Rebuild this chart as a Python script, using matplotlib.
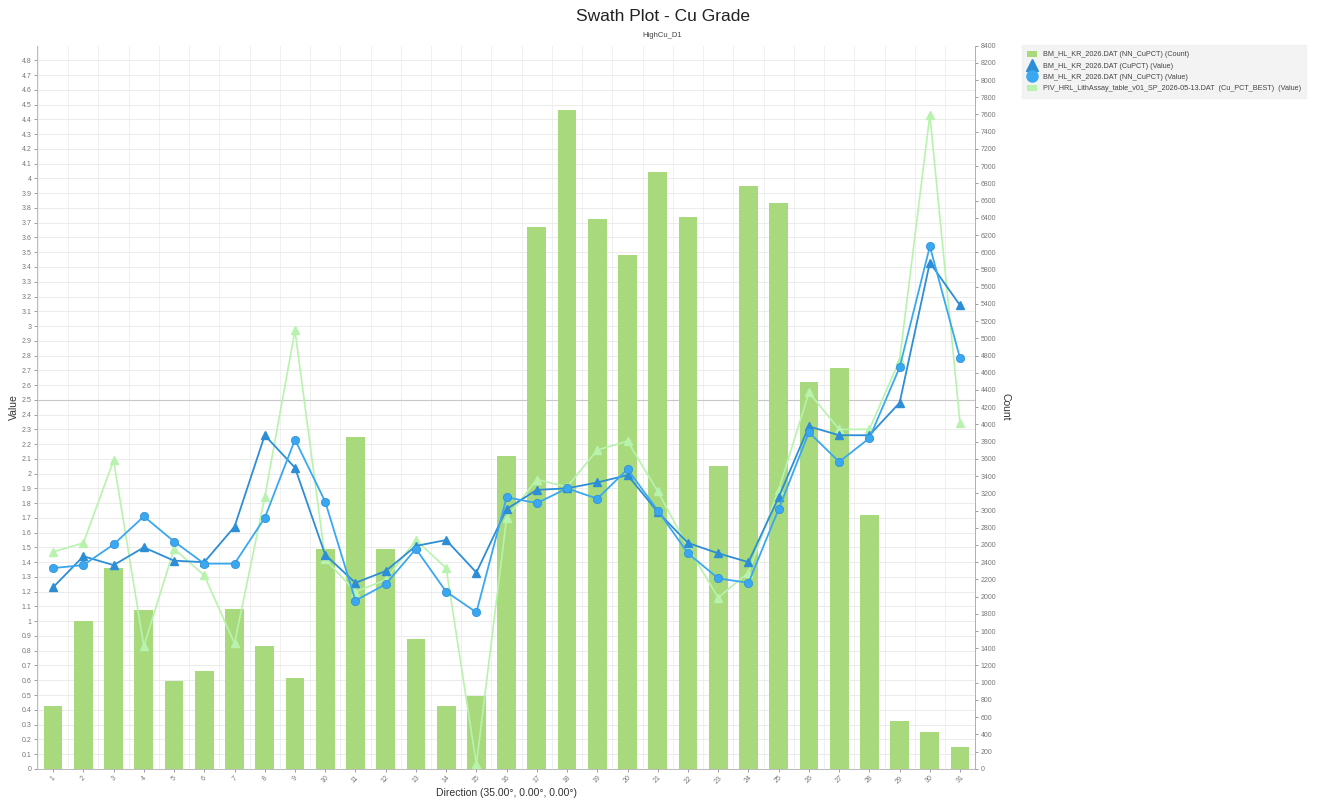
import numpy as np
import matplotlib
matplotlib.use('Agg')
import matplotlib.pyplot as plt
from matplotlib.lines import Line2D
from matplotlib.patches import Patch

plt.rcParams['font.family'] = ['Liberation Sans', 'DejaVu Sans']

# swath positions along direction
swath = list(range(1, 32))

# sample counts per swath (bars, right axis)
counts = [730, 1720, 2330, 1840, 1020, 1140, 1860, 1430, 1060, 2550,
          3850, 2550, 1510, 730, 840, 3630, 6290, 7650, 6390, 5970,
          6930, 6410, 3520, 6770, 6570, 4490, 4650, 2950, 550, 430, 256]

# BM_HL_KR_2026 (CuPCT) mean value - triangles
cu_pct = [1.23, 1.44, 1.38, 1.50, 1.41, 1.40, 1.64, 2.26, 2.04, 1.45,
          1.26, 1.34, 1.51, 1.55, 1.33, 1.76, 1.89, 1.90, 1.94, 1.99,
          1.74, 1.53, 1.46, 1.40, 1.84, 2.32, 2.26, 2.26, 2.48, 3.43, 3.14]

# BM_HL_KR_2026 (NN_CuPCT) mean value - circles
nn_cu_pct = [1.36, 1.38, 1.52, 1.71, 1.54, 1.39, 1.39, 1.70, 2.23, 1.81,
             1.14, 1.25, 1.49, 1.20, 1.06, 1.84, 1.80, 1.90, 1.83, 2.03,
             1.75, 1.46, 1.29, 1.26, 1.76, 2.28, 2.08, 2.24, 2.72, 3.54, 2.78]

# assay table Cu_PCT_BEST mean value
assay = [1.47, 1.53, 2.09, 0.83, 1.49, 1.31, 0.85, 1.84, 2.97, 1.42,
         1.20, 1.28, 1.55, 1.36, 0.03, 1.70, 1.96, 1.91, 2.16, 2.22,
         1.88, 1.50, 1.16, 1.33, 1.89, 2.55, 2.30, 2.30, 2.77, 4.43, 2.34]

labels = ['BM_HL_KR_2026.DAT (NN_CuPCT) (Count)',
          'BM_HL_KR_2026.DAT (CuPCT) (Value)',
          'BM_HL_KR_2026.DAT (NN_CuPCT) (Value)',
          'PIV_HRL_LithAssay_table_v01_SP_2026-05-13.DAT  (Cu_PCT_BEST)  (Value)']

bar_col = '#a8d97c'
blue_dark = '#2d8ed6'
blue_light = '#3aa8f0'
green_light = '#b8f3ae'
tick_col = '#777777'
spine_col = '#b0b0b0'

fig = plt.figure(figsize=(13.25, 8), dpi=100)
rect = [0.028, 0.039, 0.708, 0.904]

# bottom axes: value scale + grid
ax = fig.add_axes(rect)
ax.set_xlim(0.47, 31.5)
ax.set_ylim(0, 4.9)
vticks = np.round(np.arange(0, 4.81, 0.1), 1)
ax.set_yticks(vticks)
ax.set_yticklabels(['%g' % v for v in vticks])
ax.set_xticks(swath)
ax.set_xticklabels([str(s) for s in swath], rotation=45)
ax.set_xticks(np.arange(0.5, 31.6, 0.5), minor=True)
ax.grid(True, axis='y', color='#e8e8e8', lw=0.6)
ax.grid(True, axis='x', which='minor', color='#eeeeee', lw=0.6)
ax.axhline(2.5, color='#c8c8c8', lw=0.8)
ax.tick_params(axis='both', labelsize=5, colors=tick_col, length=2, width=0.5, pad=2)
ax.tick_params(axis='x', which='minor', length=0)
ax.set_ylabel('Value', fontsize=7.5, color='#333333', labelpad=2)
ax.set_xlabel('Direction (35.00°, 0.00°, 0.00°)', fontsize=7.5, color='#333333', labelpad=2)
ax.spines['top'].set_visible(False)
for s in ['left', 'bottom', 'right']:
    ax.spines[s].set_color(spine_col)
    ax.spines[s].set_linewidth(0.6)

# bars on count scale (right)
axc = ax.twinx()
axc.bar(swath, counts, width=0.62, color=bar_col, zorder=2)
axc.set_ylim(0, 8400)
axc.set_yticks(np.arange(0, 8401, 200))
axc.tick_params(axis='y', labelsize=5, colors=tick_col, length=2, width=0.5, pad=2)
axc.set_ylabel('Count', fontsize=7.5, color='#333333', rotation=-90, labelpad=10)
for s in ['top', 'left', 'bottom']:
    axc.spines[s].set_visible(False)
axc.spines['right'].set_color(spine_col)
axc.spines['right'].set_linewidth(0.6)

# lines on value scale, above the bars
axl = ax.twinx()
axl.set_ylim(ax.get_ylim())
axl.yaxis.set_visible(False)
for s in axl.spines.values():
    s.set_visible(False)
axl.plot(swath, assay, color=green_light, lw=1.2, marker='^', ms=5.5,
         mfc=green_light, mec=green_light, zorder=3)
axl.plot(swath, cu_pct, color=blue_dark, lw=1.3, marker='^', ms=6,
         mfc=blue_dark, mec=blue_dark, zorder=4)
axl.plot(swath, nn_cu_pct, color=blue_light, lw=1.3, marker='o', ms=6,
         mfc=blue_light, mec=blue_dark, mew=0.5, zorder=5)

fig.text(0.5, 0.979, 'Swath Plot - Cu Grade', ha='center', va='center',
         fontsize=12.5, color='#222222')
fig.text(0.5, 0.956, 'HighCu_D1', ha='center', va='center',
         fontsize=5.5, color='#444444')

handles = [Patch(facecolor=bar_col, edgecolor='none'),
           Line2D([], [], ls='none', marker='^', ms=8, color=blue_dark),
           Line2D([], [], ls='none', marker='o', ms=8, color=blue_light),
           Patch(facecolor=green_light, edgecolor='none')]
leg = fig.legend(handles, labels, loc='upper left', bbox_to_anchor=(0.771, 0.944),
                 fontsize=5.2, frameon=True, fancybox=False, borderpad=0.8,
                 labelspacing=0.5, handlelength=1.3, handleheight=1.0,
                 borderaxespad=0)
leg.get_frame().set_facecolor('#f0f0f0')
leg.get_frame().set_edgecolor('#f0f0f0')
for t in leg.get_texts():
    t.set_color('#444444')

fig.savefig('out.png', dpi=100)
